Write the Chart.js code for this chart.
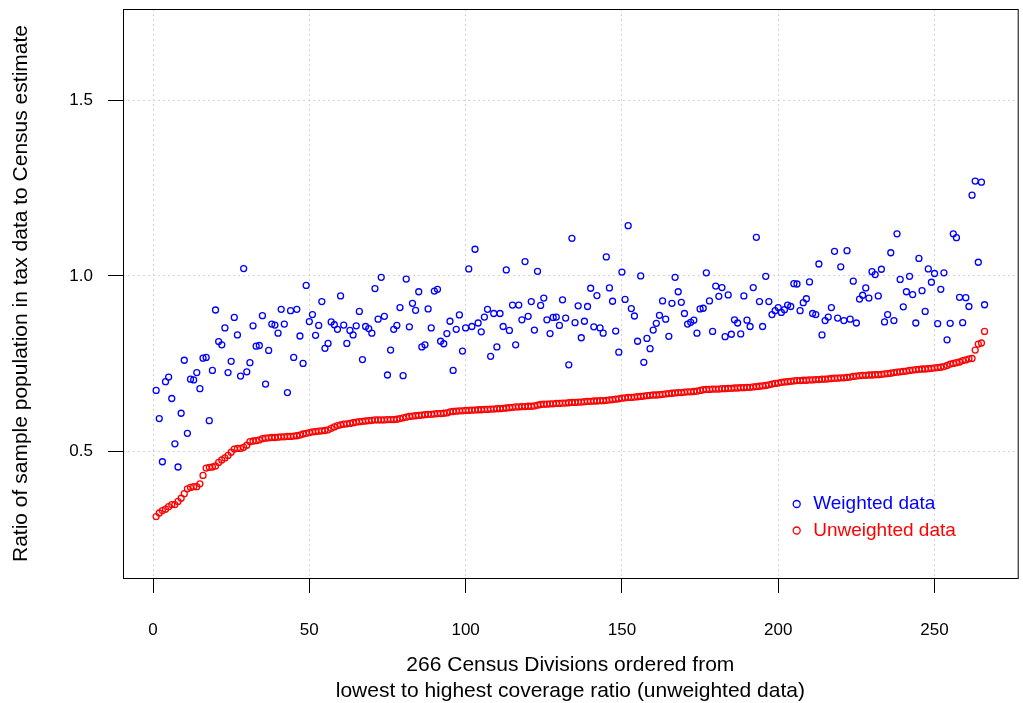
<!DOCTYPE html>
<html lang="en">
<head>
    <meta charset="UTF-8">
    <title>Coverage ratio by Census Division</title>
    <script src="https://cdn.jsdelivr.net/npm/chart.js"></script>
    <style>
        html, body { margin: 0; padding: 0; background: #fff; }
    </style>
</head>
<body>
    <canvas id="myChart" width="1023" height="703"></canvas>
    <script>
        // ratio per Census Division, ordered by the unweighted ratio
        const weighted = [
            0.674, 0.594, 0.471, 0.699, 0.712, 0.651, 0.522, 0.456, 0.609, 0.760,
            0.552, 0.706, 0.704, 0.725, 0.679, 0.766, 0.768, 0.588, 0.731, 0.903,
            0.813, 0.804, 0.852, 0.725, 0.757, 0.882, 0.832, 0.715, 1.021, 0.727,
            0.753, 0.858, 0.800, 0.802, 0.887, 0.692, 0.788, 0.863, 0.860, 0.837,
            0.905, 0.863, 0.668, 0.901, 0.768, 0.905, 0.829, 0.751, 0.973, 0.870,
            0.890, 0.831, 0.859, 0.927, 0.794, 0.808, 0.869, 0.861, 0.848, 0.943,
            0.860, 0.808, 0.845, 0.832, 0.858, 0.899, 0.762, 0.856, 0.850, 0.837,
            0.964, 0.877, 0.996, 0.885, 0.718, 0.789, 0.848, 0.859, 0.910, 0.716,
            0.991, 0.855, 0.922, 0.902, 0.955, 0.798, 0.804, 0.906, 0.852, 0.957,
            0.962, 0.814, 0.807, 0.836, 0.871, 0.731, 0.848, 0.889, 0.786, 0.852,
            1.020, 0.856, 1.076, 0.866, 0.841, 0.883, 0.905, 0.771, 0.893, 0.798,
            0.893, 0.856, 1.017, 0.845, 0.917, 0.804, 0.917, 0.875, 1.041, 0.885,
            0.927, 0.846, 1.013, 0.916, 0.937, 0.875, 0.836, 0.882, 0.883, 0.859,
            0.932, 0.880, 0.747, 1.107, 0.867, 0.915, 0.824, 0.871, 0.913, 0.965,
            0.855, 0.944, 0.852, 0.837, 1.054, 0.966, 0.928, 0.843, 0.783, 1.011,
            0.933, 1.143, 0.907, 0.886, 0.814, 1.000, 0.754, 0.822, 0.793, 0.846,
            0.865, 0.888, 0.929, 0.877, 0.828, 0.922, 0.996, 0.955, 0.925, 0.893,
            0.863, 0.868, 0.874, 0.837, 0.906, 0.908, 1.009, 0.929, 0.842, 0.971,
            0.942, 0.967, 0.827, 0.946, 0.834, 0.875, 0.866, 0.835, 0.943, 0.874,
            0.856, 0.967, 1.110, 0.927, 0.856, 0.999, 0.927, 0.890, 0.901, 0.910,
            0.896, 0.904, 0.917, 0.913, 0.978, 0.977, 0.901, 0.924, 0.935, 0.983,
            0.893, 0.890, 1.034, 0.832, 0.873, 0.883, 0.910, 1.070, 0.880, 1.026,
            0.873, 1.072, 0.877, 0.985, 0.866, 0.934, 0.945, 0.966, 0.937, 1.012,
            1.004, 0.943, 1.019, 0.869, 0.890, 1.066, 0.873, 1.120, 0.990, 0.912,
            0.955, 0.999, 0.947, 0.866, 1.050, 0.958, 0.899, 1.020, 0.982, 1.007,
            0.864, 0.962, 1.009, 0.818, 0.865, 1.120, 1.109, 0.939, 0.867, 0.938,
            0.913, 1.230, 1.270, 1.039, 1.267, 0.918
        ];
        const unweighted = [
            0.315, 0.325, 0.332, 0.336, 0.343, 0.349, 0.349, 0.358, 0.367, 0.380,
            0.394, 0.398, 0.400, 0.400, 0.408, 0.432, 0.453, 0.455, 0.456, 0.459,
            0.469, 0.476, 0.482, 0.489, 0.498, 0.507, 0.509, 0.509, 0.512, 0.518,
            0.528, 0.530, 0.531, 0.533, 0.537, 0.538, 0.539, 0.540, 0.540, 0.541,
            0.542, 0.542, 0.543, 0.543, 0.544, 0.545, 0.547, 0.550, 0.552, 0.554,
            0.556, 0.557, 0.558, 0.559, 0.560, 0.562, 0.566, 0.570, 0.574, 0.576,
            0.578, 0.579, 0.580, 0.582, 0.584, 0.585, 0.586, 0.587, 0.588, 0.589,
            0.590, 0.590, 0.590, 0.590, 0.591, 0.591, 0.591, 0.592, 0.594, 0.596,
            0.598, 0.600, 0.601, 0.602, 0.603, 0.604, 0.605, 0.606, 0.606, 0.607,
            0.608, 0.608, 0.609, 0.610, 0.613, 0.614, 0.615, 0.616, 0.616, 0.617,
            0.617, 0.618, 0.618, 0.619, 0.619, 0.620, 0.620, 0.621, 0.621, 0.622,
            0.622, 0.623, 0.624, 0.625, 0.626, 0.627, 0.627, 0.628, 0.628, 0.629,
            0.629, 0.630, 0.632, 0.634, 0.635, 0.635, 0.636, 0.636, 0.637, 0.637,
            0.638, 0.638, 0.639, 0.640, 0.640, 0.641, 0.641, 0.642, 0.643, 0.643,
            0.644, 0.644, 0.645, 0.645, 0.646, 0.647, 0.648, 0.649, 0.650, 0.652,
            0.653, 0.654, 0.654, 0.655, 0.656, 0.657, 0.658, 0.659, 0.660, 0.661,
            0.661, 0.662, 0.663, 0.664, 0.665, 0.666, 0.667, 0.668, 0.668, 0.669,
            0.670, 0.670, 0.671, 0.672, 0.674, 0.676, 0.677, 0.677, 0.678, 0.678,
            0.678, 0.679, 0.679, 0.680, 0.680, 0.681, 0.681, 0.682, 0.682, 0.683,
            0.683, 0.684, 0.685, 0.686, 0.687, 0.688, 0.690, 0.692, 0.694, 0.695,
            0.697, 0.698, 0.699, 0.700, 0.701, 0.702, 0.702, 0.703, 0.703, 0.704,
            0.704, 0.705, 0.705, 0.706, 0.706, 0.707, 0.708, 0.709, 0.709, 0.710,
            0.710, 0.711, 0.712, 0.714, 0.715, 0.716, 0.717, 0.717, 0.718, 0.718,
            0.719, 0.719, 0.720, 0.721, 0.722, 0.723, 0.725, 0.726, 0.727, 0.728,
            0.729, 0.731, 0.732, 0.733, 0.734, 0.735, 0.735, 0.736, 0.737, 0.738,
            0.739, 0.740, 0.742, 0.745, 0.749, 0.751, 0.753, 0.755, 0.759, 0.761,
            0.764, 0.765, 0.789, 0.806, 0.809, 0.842
        ];
        const seriesNames = ['Weighted data', 'Unweighted data'];
        const seriesColors = ['#0000ff', '#ff0000'];
        const xTicks = [0, 50, 100, 150, 200, 250];
        const yTicks = [0.5, 1.0, 1.5];

        const FONT = '"Liberation Sans", Arial, Helvetica, sans-serif';
        Chart.defaults.font.family = FONT;
        Chart.defaults.color = '#000';

        // division number on x, ratio on y
        const toPoints = vals => vals.map((v, i) => ({ x: i + 1, y: v }));

        // R style box round the plot region
        const plotBox = {
            id: 'plotBox',
            afterDatasetsDraw(chart) {
                const { ctx, chartArea: a } = chart;
                ctx.save();
                ctx.strokeStyle = '#000';
                ctx.lineWidth = 1;
                ctx.strokeRect(a.left + 0.5, a.top + 0.5, a.right - a.left, a.bottom - a.top);
                ctx.restore();
            }
        };

        // legend sitting inside the plot, bottom right
        const insetLegend = {
            id: 'insetLegend',
            afterDatasetsDraw(chart) {
                const { ctx, chartArea: a } = chart;
                const cx = a.right - 221;
                let cy = a.bottom - 74;
                ctx.save();
                ctx.font = '19px ' + FONT;
                ctx.textBaseline = 'middle';
                ctx.textAlign = 'left';
                chart.data.datasets.forEach(ds => {
                    ctx.strokeStyle = ds.borderColor;
                    ctx.lineWidth = 1.3;
                    ctx.beginPath();
                    ctx.arc(cx, cy, 3.5, 0, Math.PI * 2);
                    ctx.stroke();
                    ctx.fillStyle = ds.borderColor;
                    ctx.fillText(ds.label, cx + 16.5, cy);
                    cy += 26.5;
                });
                ctx.restore();
            }
        };

        const gridOpts = { color: '#d3d3d3', lineWidth: 1, tickColor: '#000', tickWidth: 1, tickLength: 15 };
        const borderOpts = { display: false, dash: [2, 3] };

        new Chart(document.getElementById('myChart'), {
            type: 'scatter',
            data: {
                datasets: [weighted, unweighted].map((vals, k) => ({
                    label: seriesNames[k],
                    data: toPoints(vals),
                    borderColor: seriesColors[k],
                    backgroundColor: 'rgba(0,0,0,0)',
                    pointRadius: 3,
                    pointBorderWidth: 1.3,
                    showLine: false
                }))
            },
            options: {
                responsive: false,
                animation: false,
                devicePixelRatio: 1,
                layout: { padding: { top: 9, right: 5, bottom: 0, left: 0 } },
                plugins: { legend: { display: false }, tooltip: { enabled: false } },
                scales: {
                    x: {
                        type: 'linear',
                        min: -9.6,
                        max: 276.6,
                        afterBuildTicks: s => { s.ticks = xTicks.map(v => ({ value: v })); },
                        afterFit: s => { s.height = 125; s.paddingLeft = 0; s.paddingRight = 0; },
                        grid: gridOpts,
                        border: borderOpts,
                        ticks: { padding: 27, maxRotation: 0, font: { size: 17 }, callback: v => String(v) },
                        title: {
                            display: true,
                            text: ['266 Census Divisions ordered from', 'lowest to highest coverage ratio (unweighted data)'],
                            font: { size: 21, lineHeight: 1.267 },
                            padding: { top: 0, bottom: -2 }
                        }
                    },
                    y: {
                        type: 'linear',
                        min: 0.14,
                        max: 1.76,
                        afterBuildTicks: s => { s.ticks = yTicks.map(v => ({ value: v })); },
                        afterFit: s => { s.width = 123; s.paddingTop = 0; s.paddingBottom = 0; },
                        grid: gridOpts,
                        border: borderOpts,
                        ticks: { padding: 15, font: { size: 17 }, callback: v => v.toFixed(1) },
                        title: {
                            display: true,
                            text: 'Ratio of sample population in tax data to Census estimate',
                            font: { size: 21, lineHeight: 1.267 },
                            padding: { top: 8, bottom: 0 }
                        }
                    }
                }
            },
            plugins: [plotBox, insetLegend]
        });
    </script>
</body>
</html>
